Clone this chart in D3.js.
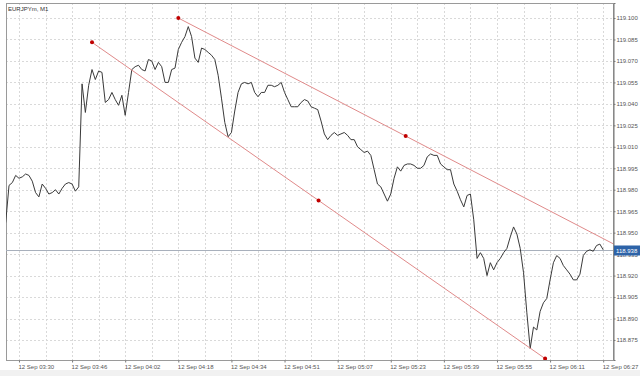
<!DOCTYPE html>
<html><head><meta charset="utf-8">
<script src="https://cdn.jsdelivr.net/npm/d3@7"></script>
<style>html,body{margin:0;padding:0;background:#fff;}svg{display:block;}</style>
</head><body>
<svg id="c" width="640" height="376"></svg>
<script>
const symbolTitle = "EURJPYm, M1";
const closes = [
118.957,118.983,118.985,118.990,118.988,118.989,118.991,118.990,118.986,118.978,
118.975,118.984,118.981,118.977,118.978,118.980,118.977,118.981,118.984,118.985,
118.984,118.979,118.982,119.054,119.034,119.053,119.064,119.057,119.063,119.062,
119.041,119.043,119.048,119.043,119.039,119.046,119.032,119.048,119.064,119.066,
119.067,119.064,119.063,119.071,119.070,119.064,119.069,119.066,119.055,119.055,
119.064,119.065,119.078,119.083,119.087,119.094,119.087,119.072,119.069,119.079,
119.078,119.076,119.074,119.071,119.060,119.044,119.027,119.017,119.020,119.035,
119.048,119.054,119.055,119.054,119.055,119.048,119.045,119.048,119.048,119.053,
119.053,119.052,119.053,119.055,119.048,119.043,119.038,119.038,119.038,119.041,
119.043,119.042,119.038,119.037,119.036,119.028,119.019,119.015,119.018,119.020,
119.018,119.019,119.020,119.018,119.015,119.015,119.010,119.008,119.006,119.007,
119.004,118.994,118.984,118.982,118.977,118.972,118.977,118.988,118.996,118.993,
118.997,118.998,118.998,118.997,118.995,118.995,118.997,119.003,119.005,119.004,
119.004,118.998,118.996,118.994,118.994,118.984,118.979,118.973,118.968,118.976,
118.977,118.959,118.932,118.936,118.932,118.920,118.929,118.924,118.929,118.932,
118.936,118.939,118.947,118.954,118.949,118.939,118.922,118.894,118.869,118.884,
118.882,118.895,118.901,118.904,118.917,118.929,118.934,118.932,118.927,118.924,
118.921,118.917,118.917,118.921,118.934,118.937,118.938,118.937,118.941,118.942,
118.938];
const timeLabels = ["12 Sep 03:30","12 Sep 03:46","12 Sep 04:02","12 Sep 04:18","12 Sep 04:34","12 Sep 04:51","12 Sep 05:07","12 Sep 05:23","12 Sep 05:39","12 Sep 05:55","12 Sep 06:11","12 Sep 06:27"];
const firstLabelBar = 4, labelStep = 16, gridStep = 8;
const priceTicks = [118.875,118.890,118.905,118.920,118.935,118.950,118.965,118.980,118.995,119.010,119.025,119.040,119.055,119.070,119.085,119.100];
const currentPrice = 118.938;
// trend lines: [bar index, price] for start and end anchors
const upperTrend = [[52, 119.100],[189, 118.935]];
const lowerTrend = [[26, 119.083],[162.5, 118.862]];

const L = 6, R = 613, T = 3, B = 360;
const svg = d3.select("#c");
const x = d3.scaleLinear().domain([0, 180]).range([5.7, 603.2]);
const y = d3.scaleLinear().domain([118.861, 119.1105]).range([B, T]);
const FONT = "'Liberation Sans', Arial, sans-serif";

svg.append("defs").append("clipPath").attr("id","clip")
  .append("rect").attr("x",L).attr("y",T).attr("width",R-L).attr("height",B-T);

const grid = svg.append("g").attr("stroke","#d9d9d9").attr("stroke-dasharray","2,2").attr("stroke-width",1);
priceTicks.forEach(p => {
  const yy = Math.round(y(p)) + 0.5;
  grid.append("line").attr("x1",L).attr("x2",R).attr("y1",yy).attr("y2",yy);
});
for (let b = firstLabelBar; b <= 180; b += gridStep) {
  const xx = Math.round(x(b)) + 0.5;
  grid.append("line").attr("x1",xx).attr("x2",xx).attr("y1",T).attr("y2",B);
}

// frame
svg.append("rect").attr("x",L+0.5).attr("y",T+0.5).attr("width",R-L).attr("height",B-T)
  .attr("fill","none").attr("stroke","#9a9a9a");

// price axis
const yAxis = d3.axisRight(y).tickValues(priceTicks).tickFormat(d3.format(".3f")).tickSize(2).tickPadding(1);
const ya = svg.append("g").attr("transform",`translate(${R+0.5},0)`).call(yAxis);
ya.select(".domain").attr("stroke","#777");
ya.selectAll(".tick line").attr("stroke","#777");
ya.selectAll("text").attr("font-family",FONT).attr("font-size","6px").attr("fill","#555");

// time axis
const tickBars = timeLabels.map((_, i) => firstLabelBar + i*labelStep);
const xAxis = d3.axisBottom(x).tickValues(tickBars).tickFormat((d,i)=>timeLabels[i]).tickSize(2).tickPadding(2);
const xa = svg.append("g").attr("transform",`translate(0,${B+0.5})`).call(xAxis);
xa.select(".domain").remove();
xa.selectAll(".tick line").attr("stroke","#777");
xa.selectAll("text").attr("font-family",FONT).attr("font-size","6px").attr("fill","#555")
  .attr("text-anchor","start").attr("dx","-1");

// current price line
const cp = Math.round(y(currentPrice)) + 0.5;
svg.append("line").attr("x1",L).attr("x2",R).attr("y1",cp).attr("y2",cp).attr("stroke","#a8b0bc");

const plot = svg.append("g").attr("clip-path","url(#clip)");
// price line
plot.append("path").datum(closes)
  .attr("d", d3.line().x((d,i)=>x(i)).y(d=>y(d)))
  .attr("fill","none").attr("stroke","#3a3a3a").attr("stroke-width",1);

// trend lines
[upperTrend, lowerTrend].forEach(tl => {
  plot.append("line")
    .attr("x1",x(tl[0][0])).attr("y1",y(tl[0][1]))
    .attr("x2",x(tl[1][0])).attr("y2",y(tl[1][1]))
    .attr("stroke","#e08a8a").attr("stroke-width",1);
  const mid = [(tl[0][0]+tl[1][0])/2, (tl[0][1]+tl[1][1])/2];
  [tl[0], mid, tl[1]].forEach(pt => {
    plot.append("circle").attr("cx",x(pt[0])).attr("cy",y(pt[1])).attr("r",2)
      .attr("fill","#c00000");
  });
});

// current price label
const lbl = svg.append("g");
lbl.append("rect").attr("x",R+1).attr("y",cp-5).attr("width",26).attr("height",10).attr("fill","#2d63a8");
lbl.append("text").attr("x",R+3).attr("y",cp+2.2).text(d3.format(".3f")(currentPrice))
  .attr("font-family",FONT).attr("font-size","6px").attr("fill","#fff");

// title
svg.append("text").attr("x",8).attr("y",11).text(symbolTitle)
  .attr("font-family",FONT).attr("font-size","6px").attr("fill","#333");

// bottom strip
svg.append("rect").attr("x",0).attr("y",370).attr("width",640).attr("height",6).attr("fill","#f1f1f1");
</script>
</body></html>
